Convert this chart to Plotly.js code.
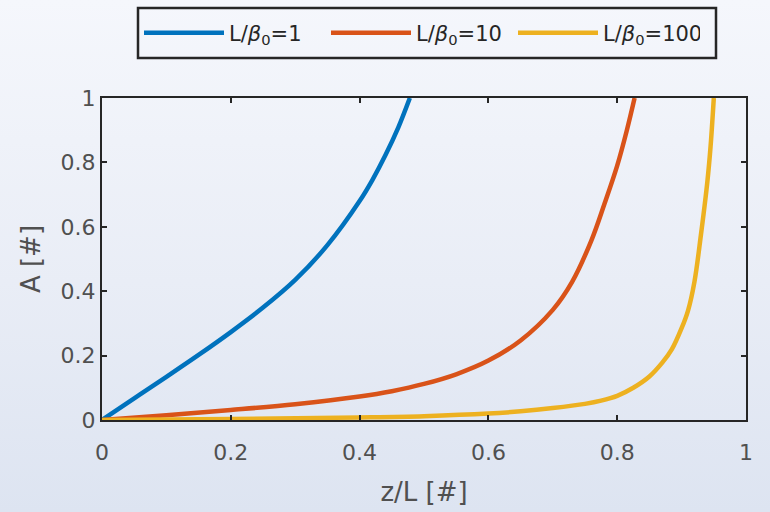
<!DOCTYPE html>
<html>
<head>
<meta charset="utf-8">
<script src="https://cdn.plot.ly/plotly-3.0.1.min.js"></script>
<style>
  html, body { margin: 0; padding: 0; width: 770px; height: 512px; overflow: hidden;
    background: linear-gradient(to bottom, #f5f7fc 0%, #e9edf6 55%, #dde4f1 100%); }
  #chart { width: 770px; height: 512px; }
</style>
</head>
<body>
<div id="chart"></div>
<script>
// A versus normalised position z/L for three ratios L/beta0
const zRatio1 = [0, 0.05, 0.10, 0.15, 0.20, 0.25, 0.30, 0.35, 0.40, 0.42, 0.44, 0.46, 0.478];
const aRatio1 = [0, 0.067, 0.134, 0.202, 0.273, 0.349, 0.435, 0.543, 0.680, 0.746, 0.822, 0.908, 1.0];

const zRatio10 = [0, 0.10, 0.20, 0.30, 0.40, 0.45, 0.50, 0.55, 0.60, 0.65, 0.70, 0.73, 0.76, 0.78, 0.80, 0.815, 0.827];
const aRatio10 = [0, 0.015, 0.031, 0.049, 0.073, 0.0895, 0.112, 0.142, 0.1845, 0.247, 0.342, 0.429, 0.558, 0.670, 0.790, 0.900, 1.0];

const zRatio100 = [0, 0.20, 0.40, 0.50, 0.60, 0.65, 0.70, 0.75, 0.775, 0.80, 0.825, 0.85, 0.87, 0.885, 0.90, 0.91, 0.92, 0.93, 0.94, 0.945, 0.950];
const aRatio100 = [0, 0.003, 0.008, 0.012, 0.020, 0.027, 0.037, 0.050, 0.060, 0.075, 0.100, 0.135, 0.178, 0.220, 0.285, 0.340, 0.430, 0.575, 0.740, 0.850, 1.0];

const seriesNames = ['L/<i>β</i><sub>0</sub>=1', 'L/<i>β</i><sub>0</sub>=10', 'L/<i>β</i><sub>0</sub>=100'];
const seriesColors = ['#0072BD', '#D95319', '#EDB120'];
const tickVals = [0, 0.2, 0.4, 0.6, 0.8, 1];
const tickText = ['0', '0.2', '0.4', '0.6', '0.8', '1'];

const xs = [zRatio1, zRatio10, zRatio100];
const ys = [aRatio1, aRatio10, aRatio100];

const traces = xs.map((x, i) => ({
  type: 'scatter', mode: 'lines', x: x, y: ys[i], name: seriesNames[i],
  line: { color: seriesColors[i], width: 4.5, shape: 'spline', smoothing: 1 },
  cliponaxis: false, hoverinfo: 'skip'
}));

const family = 'DejaVu Sans, Verdana, sans-serif';
const tickFont = { family: family, size: 22, color: '#505050' };
const titleFont = { family: family, size: 26, color: '#505050' };

const axisCommon = {
  range: [0, 1], tickvals: tickVals, ticktext: tickText,
  showgrid: false, zeroline: false,
  showline: true, linecolor: '#262626', linewidth: 2, mirror: 'ticks',
  ticks: 'inside', ticklen: 5, tickwidth: 2, tickcolor: '#262626',
  tickfont: tickFont, layer: 'above traces', fixedrange: true
};

// plot area spans x 102..746 px and y 98..420 px; legend frame in paper units
const px = v => (v - 102) / 644;
const py = v => (420 - v) / 322;

const layout = {
  width: 770, height: 512,
  margin: { l: 102, r: 24, t: 98, b: 92, pad: 0 },
  paper_bgcolor: 'rgba(0,0,0,0)', plot_bgcolor: 'rgba(0,0,0,0)',
  font: { family: family, color: '#505050' },
  showlegend: true,
  legend: {
    orientation: 'h', x: px(139), xanchor: 'left', y: py(33), yanchor: 'middle',
    bgcolor: 'rgba(0,0,0,0)', borderwidth: 0,
    font: { family: family, size: 21, color: '#262626' },
    itemwidth: 80, entrywidth: 92, entrywidthmode: 'pixels',
    itemclick: false, itemdoubleclick: false
  },
  shapes: [{
    type: 'rect', xref: 'paper', yref: 'paper',
    x0: px(138), x1: px(716), y0: py(58), y1: py(8),
    line: { color: '#262626', width: 2.5 }, fillcolor: 'rgba(0,0,0,0)'
  }],
  xaxis: Object.assign({}, axisCommon, {
    ticklabelstandoff: 12,
    title: { text: 'z/L [#]', font: titleFont, standoff: 18 }
  }),
  yaxis: Object.assign({}, axisCommon, {
    title: { text: 'A [#]', font: titleFont, standoff: 12 }
  })
};

Plotly.newPlot('chart', traces, layout, { staticPlot: true, displayModeBar: false });
</script>
</body>
</html>
